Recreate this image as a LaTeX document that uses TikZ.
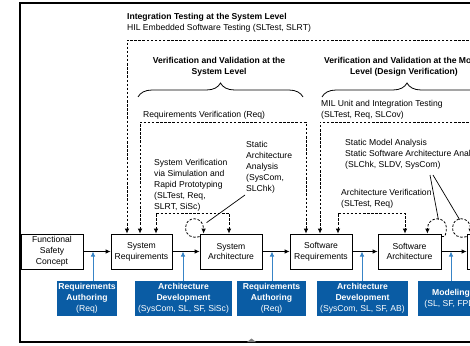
\documentclass[tikz,border=0pt]{standalone}
\usepackage{fontspec}
\setmainfont{Liberation Sans}
\usetikzlibrary{arrows.meta,decorations.pathreplacing}

\definecolor{toolblue}{RGB}{10,92,164}
\definecolor{feedblue}{RGB}{56,132,198}

\tikzset{
  stagebox/.style={draw,fill=white,line width=0.8pt,minimum width=62pt,minimum height=35pt,align=center,inner sep=1pt},
  toolbox/.style={fill=toolblue,text=white,minimum height=35pt,align=center,inner sep=1pt},
  note/.style={align=left,inner sep=0pt,anchor=north west},
  checkline/.style={<->,line width=0.8pt,dash pattern=on 2.5pt off 1.6pt},
  loopline/.style={->,line width=0.8pt,dash pattern=on 2.5pt off 1.6pt},
  toolarrow/.style={->,feedblue,line width=0.9pt},
  levelbrace/.style={decorate,decoration={brace,amplitude=14pt},line width=0.8pt}
}

\begin{document}
\begin{tikzpicture}[x=1pt,y=-1pt,>={Latex[length=5pt,width=4.6pt]},font=\fontsize{8.6}{10.8}\selectfont]
\useasboundingbox (0,0) rectangle (470,345);
\clip (0,0) rectangle (470,345);

\draw [line width=1.3pt] (20,3) rectangle (600,342);
\fill [gray] (247,342) -- (251.5,338.5) -- (256,342) -- cycle;

\node (fsc) [stagebox] at (52,251.5) {Functional\\Safety\\Concept};
\node (sysreq) [stagebox,minimum width=61pt] at (141.5,251.5) {System\\Requirements};
\node (sysarch) [stagebox] at (231,251.5) {System\\Architecture};
\node (swreq) [stagebox] at (321,251.5) {Software\\Requirements};
\node (swarch) [stagebox,minimum width=63pt] at (409.5,251.5) {Software\\Architecture};
\node (swmodel) [stagebox] at (498,251.5) {};

\path [->,line width=0.8pt]
    (fsc) edge (sysreq)
    (sysreq) edge (sysarch)
    (sysarch) edge (swreq)
    (swreq) edge (swarch)
    (swarch) edge (swmodel)
;

\node (reqauth) [toolbox,minimum width=60pt] at (87,298.5) {\textbf{Requirements}\\\textbf{Authoring}\\(Req)};
\node (sysarchdev) [toolbox,minimum width=97pt] at (183.5,298.5) {\textbf{Architecture}\\\textbf{Development}\\(SysCom, SL, SF, SiSc)};
\node (swreqauth) [toolbox,minimum width=69pt] at (271.5,298.5) {\textbf{Requirements}\\\textbf{Authoring}\\(Req)};
\node (swarchdev) [toolbox,minimum width=91pt] at (362.5,298.5) {\textbf{Architecture}\\\textbf{Development}\\(SysCom, SL, SF, AB)};
\node (modeling) [toolbox,minimum width=66pt] at (451,298.5) {\textbf{Modeling}\\(SL, SF, FPD)};

\coordinate (j1) at (93,251.5);
\coordinate (j2) at (183,251.5);
\coordinate (j3) at (272,251.5);
\coordinate (j4) at (362,251.5);
\coordinate (j5) at (451,251.5);
\draw [toolarrow] (reqauth.north -| j1) -- (j1);
\draw [toolarrow] (sysarchdev.north -| j2) -- (j2);
\draw [toolarrow] (swreqauth.north -| j3) -- (j3);
\draw [toolarrow] (swarchdev.north -| j4) -- (j4);
\draw [toolarrow] (modeling.north -| j5) -- (j5);

\node (inttest) [anchor=west,inner sep=0pt] at (127,17) {\textbf{Integration Testing at the System Level}};
\node (hiltest) [anchor=west,inner sep=0pt] at (127,28) {HIL Embedded Software Testing (SLTest, SLRT)};
\node (vvsys) [align=center,inner sep=0pt] at (219,66.5) {\textbf{Verification and Validation at the}\\\textbf{System Level}};
\node (vvmodel) [align=center,inner sep=0pt] at (404,66.5) {\textbf{Verification and Validation at the Model}\\\textbf{Level (Design Verification)}};
\draw [levelbrace] (138,97) -- (303,97);
\draw [levelbrace] (322,97) -- (492,97);

\node (reqverif) [anchor=west,inner sep=0pt] at (143,115) {Requirements Verification (Req)};
\node (milt) [note] at (321,100.5) {MIL Unit and Integration Testing\\(SLTest, Req, SLCov)};
\node (sysverif) [note] at (154,159.5) {System Verification\\via Simulation and\\Rapid Prototyping\\(SLTest, Req,\\SLRT, SiSc)};
\node (staticarch) [note] at (246,141.5) {Static\\Architecture\\Analysis\\(SysCom,\\SLChk)};
\node (staticmodel) [note] at (345,139.5) {Static Model Analysis\\Static Software Architecture Analysis\\(SLChk, SLDV, SysCom)};
\node (archverif) [note] at (341,189.5) {Architecture Verification\\(SLTest, Req)};

\coordinate (it) at (127,40);
\coordinate (itend) at (600,40);
\coordinate (rv1) at (140,122);
\coordinate (rv2) at (306,122);
\coordinate (sv1) at (156,213);
\coordinate (sv2) at (229,213);
\coordinate (mt1) at (320,122);
\coordinate (mtend) at (600,122);
\coordinate (av1) at (338,213);
\coordinate (av2) at (405,213);

\draw [checkline,->] (itend) -- (it) -- (sysreq.north -| it);
\draw [checkline] (sysreq.north -| rv1) -- (rv1) -- (rv2) -- (swreq.north -| rv2);
\draw [checkline] (sysreq.north -| sv1) -- (sv1) -- (sv2) -- (sysarch.north -| sv2);
\draw [checkline,->] (mtend) -- (mt1) -- (swreq.north -| mt1);
\draw [checkline] (swreq.north -| av1) -- (av1) -- (av2) -- (swarch.north -| av2);

\begin{scope}[shift={(sysarch.north west)}]
  \draw [loopline] (0,3) .. controls (-8,5) and (-14,2) .. (-14,-6) .. controls (-14,-18) and (4,-18) .. (4,0);
  \coordinate (sysarchhook) at (7,-11);
\end{scope}
\begin{scope}[shift={(swarch.north east)}]
  \draw [loopline] (0,3) .. controls (4,4) and (5,0) .. (5,-6) .. controls (5,-18) and (-14,-18) .. (-14,0);
  \coordinate (swarchhook) at (-3,-14);
\end{scope}
\begin{scope}[shift={(swmodel.north west)}]
  \draw [loopline] (0,3) .. controls (-8,5) and (-14,2) .. (-14,-6) .. controls (-14,-18) and (4,-18) .. (4,0);
  \coordinate (swmodelhook) at (-7,-14);
\end{scope}

\coordinate (safoot) at (245,195);
\coordinate (smfoot1) at (430,175);
\coordinate (smfoot2) at (433,175);
\draw [line width=0.7pt] (safoot) -- (sysarchhook);
\draw [line width=0.7pt] (smfoot1) -- (swarchhook);
\draw [line width=0.7pt] (smfoot2) -- (swmodelhook);

\end{tikzpicture}
\end{document}
